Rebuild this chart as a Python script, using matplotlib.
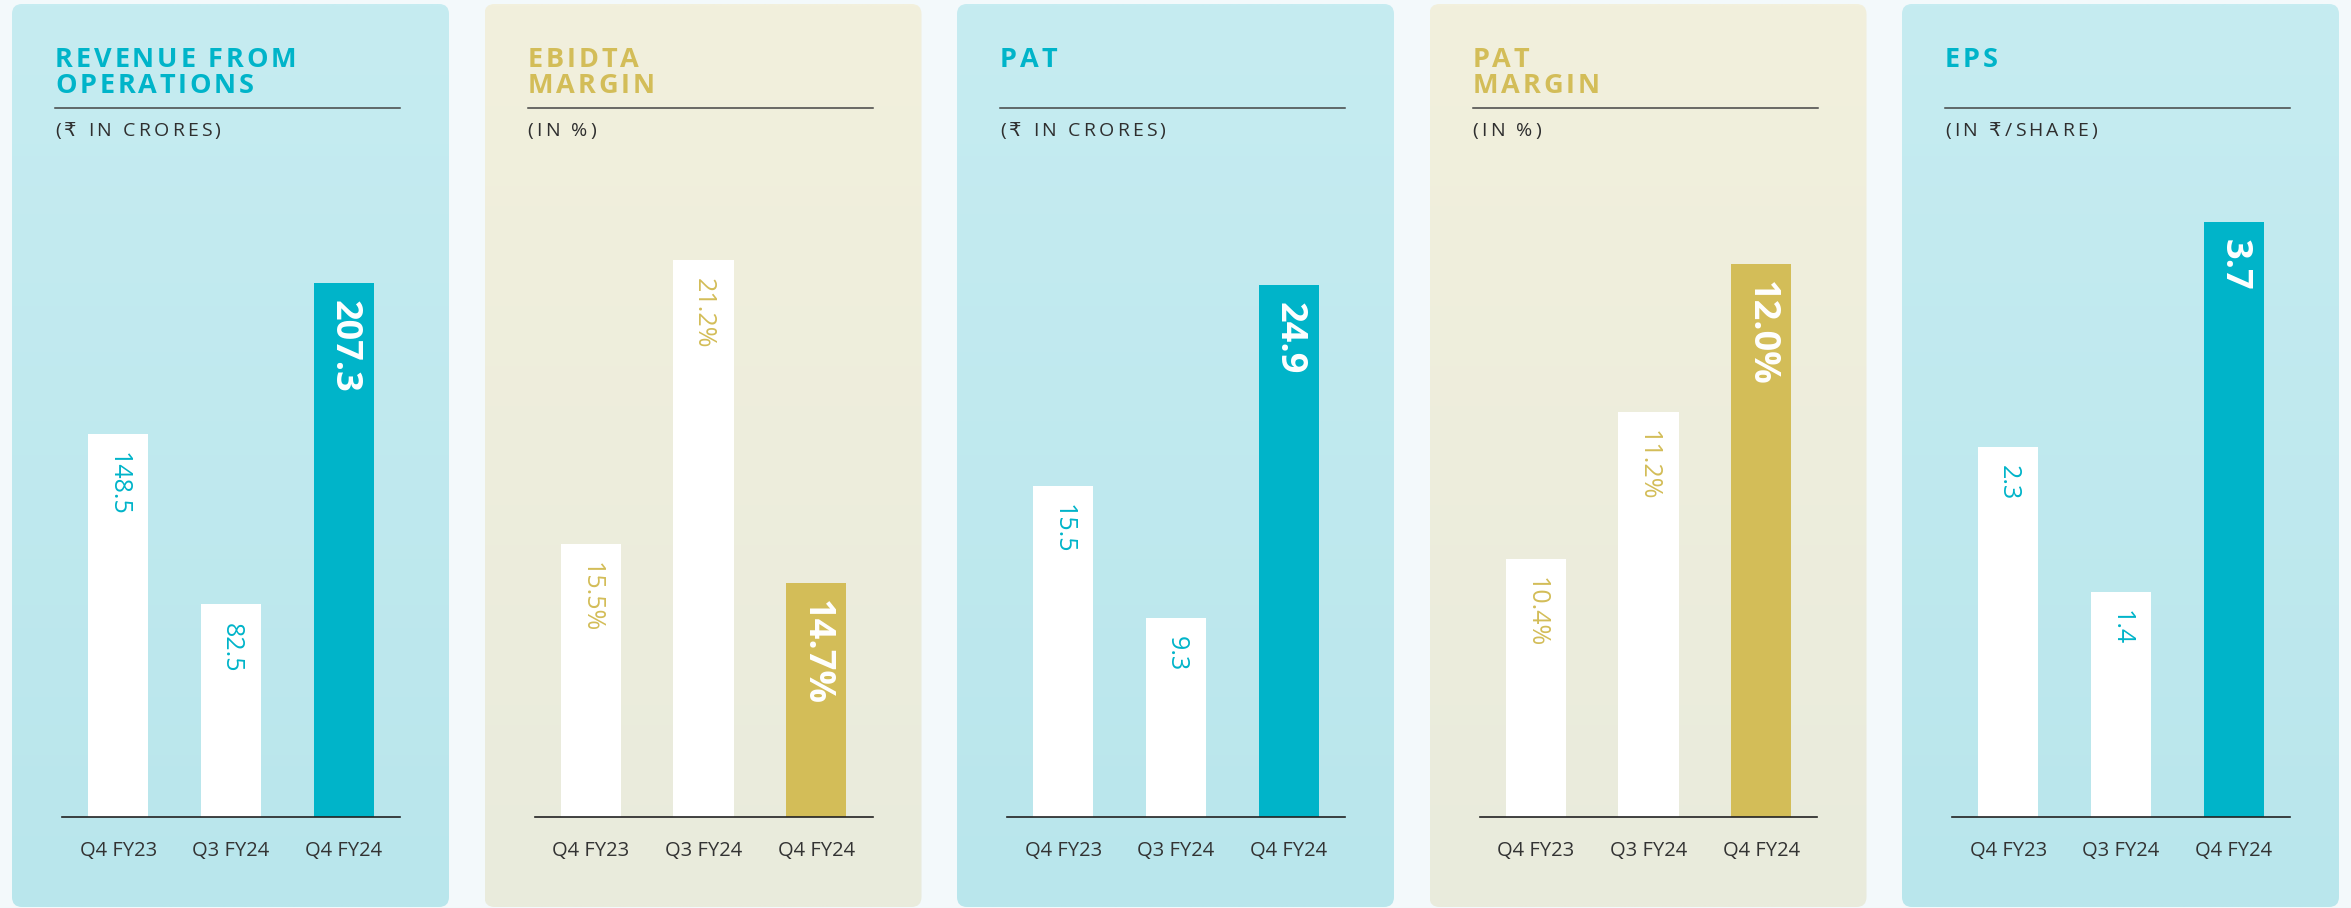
import numpy as np
import matplotlib
matplotlib.use('Agg')
import matplotlib.pyplot as plt
from matplotlib.patches import FancyBboxPatch
from matplotlib import font_manager
from matplotlib.ft2font import FT2Font

# data
periods = ['Q4 FY23', 'Q3 FY24', 'Q4 FY24']
revenue = [148.5, 82.5, 207.3]
ebitda_margin = [15.5, 21.2, 14.7]
pat = [15.5, 9.3, 24.9]
pat_margin = [10.4, 11.2, 12.0]
eps = [2.3, 1.4, 3.7]

titles = [['REVENUE FROM', 'OPERATIONS'], ['EBIDTA', 'MARGIN'], ['PAT'],
          ['PAT', 'MARGIN'], ['EPS']]
units = ['(₹ IN CRORES)', '(IN %)', '(₹ IN CRORES)', '(IN %)', '(IN ₹/SHARE)']
series = [revenue, ebitda_margin, pat, pat_margin, eps]
suffix = ['', '%', '', '%', '']
themes = ['teal', 'gold', 'teal', 'gold', 'teal']
# the infographic does not start every axis at zero
ylims = [(0, 239.5), (10, 22.41), (0, 28.87), (9, 12.35), (0, 3.837)]

TEAL = '#00b4c9'
GOLD = '#d3bd58'
colors = {
    'teal': dict(accent=TEAL, top='#c6ecf1', bottom='#b9e6ec'),
    'gold': dict(accent=GOLD, top='#f2f0dd', bottom='#e9ebdc'),
}

W, H = 2351, 908
DPI = 100
FAM = ['Open Sans', 'DejaVu Sans']

fig = plt.figure(figsize=(W / DPI, H / DPI), dpi=DPI)
fig.patch.set_facecolor('#f3f9fb')

bg = fig.add_axes([0, 0, 1, 1])
bg.set_xlim(0, W)
bg.set_ylim(H, 0)
bg.axis('off')


def advance(ch, size, weight):
    # horizontal advance of one character, in pixels
    for fam in FAM:
        path = font_manager.findfont(font_manager.FontProperties(family=fam, weight=weight))
        f = FT2Font(path)
        if f.get_char_index(ord(ch)) != 0:
            break
    f.set_size(size, DPI)
    g = f.load_char(ord(ch))
    return g.linearHoriAdvance / 65536


def spaced_text(x, y, s, size, track, weight='normal', color='k'):
    for ch in s:
        bg.text(x, y, ch, fontsize=size, fontweight=weight, color=color,
                family=FAM, va='baseline', ha='left')
        x += advance(ch, size, weight) + track


panel_w = 437
panel_step = 472.5
panel_top = 4
panel_bot = 907
r = 10

for i in range(5):
    c = colors[themes[i]]
    x0 = 12 + i * panel_step
    box = FancyBboxPatch((x0 + r, panel_top + r), panel_w - 2 * r, panel_bot - panel_top - 2 * r,
                         boxstyle='round,pad=%d' % r, fc='none', ec='none')
    bg.add_patch(box)
    c1 = np.array(matplotlib.colors.to_rgb(c['top']))
    c2 = np.array(matplotlib.colors.to_rgb(c['bottom']))
    t = np.linspace(0, 1, 200)[:, None, None]
    grad = c1 * (1 - t) + c2 * t
    im = bg.imshow(grad, extent=(x0, x0 + panel_w, panel_bot, panel_top), aspect='auto',
                   interpolation='bilinear', zorder=1)
    im.set_clip_path(box)

    # header
    tx = x0 + 43
    for k, line in enumerate(titles[i]):
        spaced_text(tx, 67 + k * 26, line, 19.5, 2.8, weight='bold', color=c['accent'])
    bg.plot([tx, x0 + 388], [108, 108], color='#444444', lw=1.1, zorder=3)
    spaced_text(tx, 136, units[i], 14, 3.2, color='#2f2f2f')

    # bars
    ax = fig.add_axes([(x0 + 50) / W, (H - 817) / H, 338 / W, 617 / H])
    ax.patch.set_alpha(0)
    vals = series[i]
    bar_colors = ['white', 'white', c['accent']]
    ax.bar(range(3), vals, width=0.533, color=bar_colors, zorder=2)
    ax.set_xlim(-0.5, 2.5)
    ax.set_ylim(*ylims[i])
    for k, v in enumerate(vals):
        lab = '{:.1f}{}'.format(v, suffix[i])
        if k == 2:
            ax.annotate(lab, (k, v), xytext=(0, -12), textcoords='offset points',
                        rotation=-90, ha='center', va='top', color='white',
                        fontsize=26, fontweight='bold', family=FAM)
        else:
            ax.annotate(lab, (k, v), xytext=(0, -13), textcoords='offset points',
                        rotation=-90, ha='center', va='top', color=c['accent'],
                        fontsize=18, family=FAM)
    ax.set_xticks(range(3), periods, fontsize=14.5, color='#333333', family=FAM)
    ax.tick_params(axis='x', length=0, pad=17)
    ax.set_yticks([])
    for s in ['top', 'left', 'right']:
        ax.spines[s].set_visible(False)
    ax.spines['bottom'].set_color('#222222')
    ax.spines['bottom'].set_linewidth(1.2)

fig.savefig('out.png', dpi=DPI)
